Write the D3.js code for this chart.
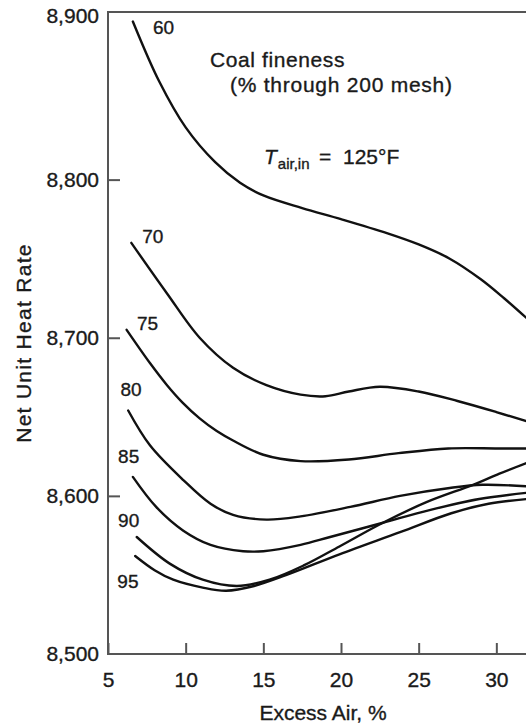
<!DOCTYPE html>
<html>
<head>
<meta charset="utf-8">
<script src="https://cdn.jsdelivr.net/npm/d3@7"></script>
<style>
  html, body { margin: 0; padding: 0; background: #fff; }
  svg { display: block; font-family: "Liberation Sans", Arial, Helvetica, sans-serif; }
</style>
</head>
<body>
<svg id="chart" width="526" height="728"></svg>
<script>
// ---- data ----
const fineness = ["60", "70", "75", "80", "85", "90", "95"];
const excessAir60 = [6.6, 8.3, 10, 11.9, 13.5, 15, 17.5, 20, 23, 25, 27, 29, 30.5, 32];
const heatRate60  = [8900, 8862, 8833, 8811, 8798, 8790, 8782, 8775, 8766, 8759, 8750, 8737, 8725, 8712];
const excessAir70 = [6.5, 8.8, 10.9, 13.05, 15.2, 17.4, 19.0, 20.5, 22.5, 25, 27.5, 30, 32];
const heatRate70  = [8760, 8728, 8700, 8681, 8670, 8664, 8663, 8666, 8669, 8666, 8660, 8653, 8647];
const excessAir75 = [6.2, 7.7, 8.8, 9.8, 10.9, 12.0, 13.05, 15, 17.4, 20.5, 23.7, 26.9, 30.1, 32];
const heatRate75  = [8705, 8684, 8670, 8659, 8649, 8641, 8635, 8626, 8622, 8623, 8627, 8630, 8630, 8630];
const excessAir80 = [6.3, 7.7, 9.85, 11.6, 13.05, 15.2, 17.4, 20.6, 23.8, 27.0, 29.1, 32];
const heatRate80  = [8654, 8632, 8610, 8595, 8588, 8585, 8587, 8593, 8600, 8605, 8607, 8606];
const excessAir85 = [6.6, 8.1, 9.85, 11.6, 13.7, 15.0, 17.4, 19.3, 22.7, 25.7, 28.9, 32];
const heatRate85  = [8612, 8593, 8578, 8569, 8565, 8565, 8569, 8574, 8583, 8591, 8598, 8602];
const excessAir90 = [6.85, 9.0, 11.1, 13.3, 15.4, 17.6, 19.9, 22.7, 25.5, 28.5, 30.2, 32];
const heatRate90  = [8574, 8557, 8547, 8543, 8547, 8556, 8568, 8583, 8596, 8607, 8614, 8621];
const excessAir95 = [6.75, 8.0, 9.2, 11.1, 12.6, 14.4, 16.5, 19.9, 23.8, 27.1, 29.5, 32];
const heatRate95  = [8562, 8553, 8547, 8542, 8540, 8543, 8550, 8563, 8577, 8589, 8595, 8598];
// curve label anchors (data units: excess air %, heat rate)
const labelAir  = [7.9, 7.2, 6.87, 5.8, 5.65, 5.65, 5.6];
const labelRate = [8892, 8760, 8705, 8663, 8621, 8580, 8542];
const xTicks = [5, 10, 15, 20, 25, 30];
const yTicks = [8500, 8600, 8700, 8800, 8900];

const series = [
  [excessAir60, heatRate60], [excessAir70, heatRate70], [excessAir75, heatRate75],
  [excessAir80, heatRate80], [excessAir85, heatRate85], [excessAir90, heatRate90],
  [excessAir95, heatRate95]
].map(([xs, ys], i) => ({ name: fineness[i], pts: xs.map((d, j) => ({ x: d, v: ys[j] })) }));

// ---- layout ----
const svg = d3.select("#chart");
const mLeft = 108, mBottom = 654, mTop = 12, mRight = 574;
const x = d3.scaleLinear().domain([5, 35]).range([mLeft, mRight]);
const y = d3.scaleLinear().domain([8500, 8906]).range([mBottom, mTop]);
const axisColor = "#555";
const textColor = "#1a1a1a";
const bolden = sel => sel.attr("fill", textColor).attr("stroke", textColor).attr("stroke-width", 0.35);

// axes
const gx = svg.append("g").attr("transform", `translate(0,${mBottom})`)
  .call(d3.axisBottom(x).tickValues(xTicks).tickSizeInner(-11).tickSizeOuter(0).tickPadding(18));
gx.select(".domain").remove();
gx.selectAll(".tick line").attr("stroke", axisColor).attr("stroke-width", 2);
gx.selectAll(".tick text").call(bolden).style("font-size", "21px");

const gy = svg.append("g").attr("transform", `translate(${mLeft},0)`)
  .call(d3.axisLeft(y).tickValues(yTicks).tickFormat(d3.format(",")).tickSizeInner(-12).tickSizeOuter(0).tickPadding(9));
gy.select(".domain").remove();
gy.selectAll(".tick line").attr("stroke", axisColor).attr("stroke-width", 2)
  .filter(d => d === 8900 || d === 8500).remove();
gy.selectAll(".tick text").call(bolden).style("font-size", "21px")
  .filter(d => d === 8900).attr("y", -6);

// frame lines
svg.append("path")
  .attr("d", `M${mRight},${mTop}H${mLeft}V${mBottom}H${mRight}`)
  .attr("fill", "none").attr("stroke", axisColor).attr("stroke-width", 2);

// curves
const line = d3.line().x(d => x(d.x)).y(d => y(d.v)).curve(d3.curveCatmullRom.alpha(0.5));
svg.append("g").selectAll("path").data(series).join("path")
  .attr("d", d => line(d.pts))
  .attr("fill", "none").attr("stroke", "#111").attr("stroke-width", 2.4)
  .attr("stroke-linecap", "round");

// curve labels
svg.append("g").selectAll("text").data(fineness).join("text")
  .attr("x", (d, i) => x(labelAir[i]))
  .attr("y", (d, i) => y(labelRate[i]))
  .call(bolden).style("font-size", "19px")
  .text(d => d);

// annotations
svg.append("text").attr("x", 210).attr("y", 67).call(bolden)
  .style("font-size", "21px").style("letter-spacing", "0.6px").text("Coal fineness");
svg.append("text").attr("x", 230).attr("y", 92).call(bolden)
  .style("font-size", "21px").style("letter-spacing", "0.75px").text("(% through 200 mesh)");

const tA = svg.append("text").attr("x", 264).attr("y", 164).call(bolden).style("font-size", "21px");
tA.append("tspan").style("font-style", "italic").text("T");
tA.append("tspan").attr("dx", 1).attr("dy", 5).style("font-size", "15px").text("air,in");
tA.append("tspan").attr("x", 319).attr("dy", -5).text("=");
tA.append("tspan").attr("x", 343).text("125°F");

// axis titles
svg.append("text").attr("x", 323).attr("y", 720).attr("text-anchor", "middle")
  .call(bolden).style("font-size", "21px").text("Excess Air, %");
svg.append("text").attr("transform", "translate(31,343) rotate(-90)").attr("text-anchor", "middle")
  .call(bolden).style("font-size", "21px").style("letter-spacing", "1.3px").text("Net Unit Heat Rate");
</script>
</body>
</html>
